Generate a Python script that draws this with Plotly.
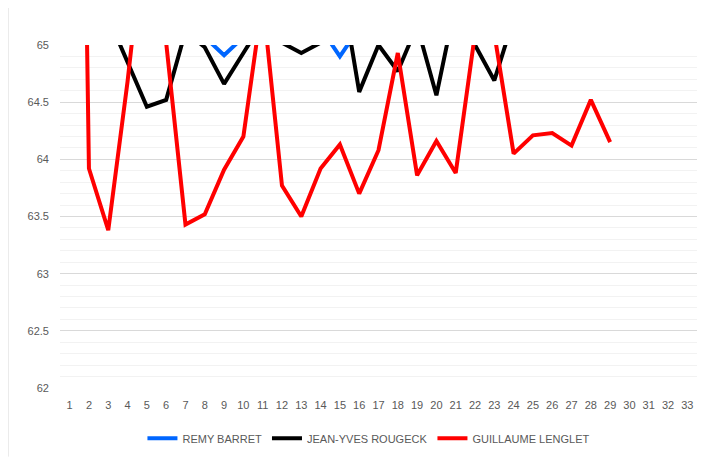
import plotly.graph_objects as go

categories = ["1", "2", "3", "4", "5", "6", "7", "8", "9", "10", "11", "12", "13", "14", "15", "16",
              "17", "18", "19", "20", "21", "22", "23", "24", "25", "26", "27", "28", "29", "30", "31", "32", "33"]

remy_barret = [65.5, 65.4, 65.3, 65.2, 65.25, 65.3, 65.2, 65.07, 64.91, 65.07, 65.3, 65.25, 65.2, 65.15,
               64.90, 65.15, 65.3, 65.25, 65.3, 65.2, 65.4, 65.3, 65.25, 65.3,
               None, None, None, None, None, None, None, None, None]

jean_yves_rougeck = [65.5, 65.4, 65.24, 64.84, 64.46, 64.52, 65.12, 64.98, 64.66, 64.93, 65.2, 65.02, 64.93,
                     65.02, 65.6, 64.59, 65.0, 64.77, 65.17, 64.56, 65.37, 65.0, 64.69, 65.23,
                     None, None, None, None, None, None, None, None, None]

guillaume_lenglet = [75.0, 63.92, 63.38, 64.68, 66.2, 65.02, 63.43, 63.52, 63.91, 64.2, 65.4, 63.77, 63.50,
                     63.92, 64.13, 63.70, 64.08, 64.93, 63.86, 64.16, 63.88, 65.1, 65.1, 64.05, 64.21,
                     64.23, 64.12, 64.52, 64.15, None, None, None, None]

series = [
    ("REMY BARRET", remy_barret, "#0066FF"),
    ("JEAN-YVES ROUGECK", jean_yves_rougeck, "#000000"),
    ("GUILLAUME LENGLET", guillaume_lenglet, "#FF0000"),
]

fig = go.Figure()
for name, vals, color in series:
    fig.add_trace(go.Scatter(x=categories, y=vals, mode="lines", name=name,
                             line=dict(color=color, width=4), connectgaps=False))

tickfont = dict(family="Liberation Sans, Arial, sans-serif", size=11, color="#595959")

fig.update_layout(
    width=709, height=453,
    margin=dict(l=52, r=20, t=37, b=73, autoexpand=False),
    paper_bgcolor="white", plot_bgcolor="white",
    showlegend=True,
    legend=dict(orientation="h", x=0.485, xanchor="center", yref="container", y=0.05,
                yanchor="middle",
                font=dict(family="Liberation Sans, Arial, sans-serif", size=11, color="#595959")),
    xaxis=dict(type="category", range=[-0.5, 32.5], showgrid=False, zeroline=False,
               showline=False, ticks="", tickfont=tickfont, ticklabelstandoff=9),
    yaxis=dict(range=[62, 65], tick0=62, dtick=0.5, showgrid=True, gridcolor="#d9d9d9",
               gridwidth=1, zeroline=False, showline=False, ticks="", tickfont=tickfont,
               ticklabelstandoff=10,
               minor=dict(dtick=0.1, showgrid=True, gridcolor="#f2f2f2", gridwidth=1)),
    shapes=[dict(type="line", xref="paper", yref="paper", x0=-0.0816, x1=-0.0816,
                 y0=-0.2, y1=1.11, line=dict(color="#d9d9d9", width=1))],
)

fig.write_html("out.html")
